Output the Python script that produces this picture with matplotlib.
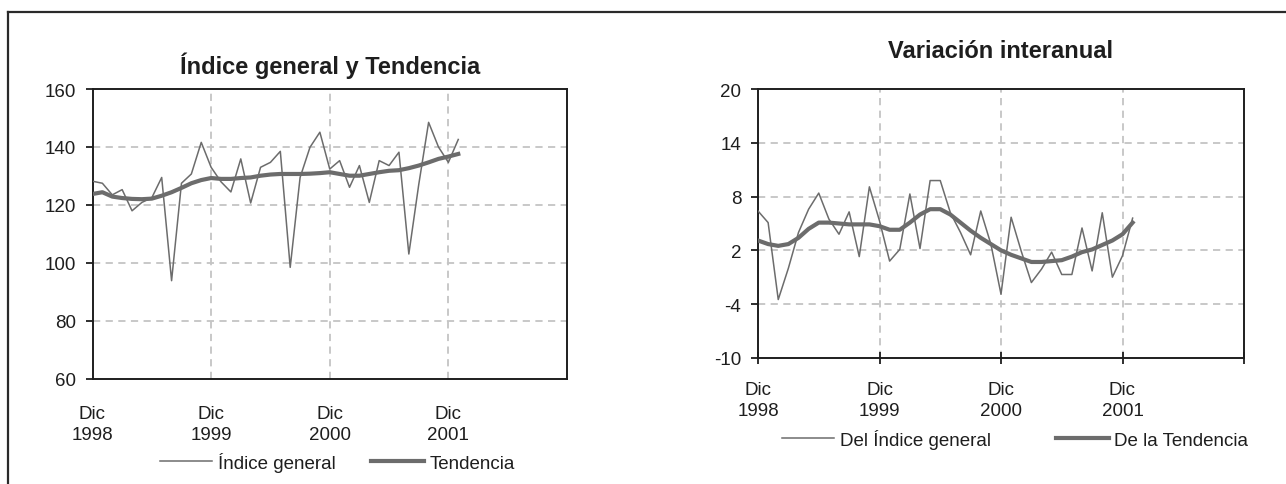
import matplotlib
matplotlib.use('Agg')
from matplotlib import pyplot as plt
from matplotlib.lines import Line2D

plt.rcParams['font.family'] = ['Liberation Sans', 'DejaVu Sans']
plt.rcParams['axes.unicode_minus'] = False

# meses desde Dic 1998 hasta Ene 2002
meses = list(range(38))
ticks_x = [0, 12, 24, 36]
etiquetas_x = ['Dic\n1998', 'Dic\n1999', 'Dic\n2000', 'Dic\n2001']

indice_general = [128.2, 127.5, 123.5, 125.3, 118.0, 120.9, 122.5, 129.5, 93.9, 127.5,
                  130.7, 141.6, 133.0, 128.0, 124.5, 135.9, 120.7, 133.0, 134.7, 138.5,
                  98.5, 129.5, 139.9, 145.1, 132.4, 135.3, 126.1, 133.6, 120.9, 135.3,
                  133.6, 138.2, 103.1, 127.0, 148.5, 140.0, 134.7, 142.6]
tendencia = [123.8, 124.4, 122.9, 122.4, 122.1, 122.0, 122.2, 123.2, 124.4, 125.9,
             127.5, 128.6, 129.3, 129.0, 129.0, 129.3, 129.5, 130.1, 130.5, 130.7,
             130.7, 130.7, 130.8, 131.0, 131.3, 130.7, 130.1, 130.1, 130.7, 131.3,
             131.8, 132.0, 132.7, 133.6, 134.7, 135.9, 136.7, 137.6]

var_indice = [6.4, 5.1, -3.5, 0.0, 4.0, 6.6, 8.4, 5.5, 3.8, 6.3,
              1.3, 9.1, 5.3, 0.8, 2.1, 8.3, 2.2, 9.8, 9.8, 6.2,
              4.0, 1.5, 6.4, 2.7, -2.9, 5.7, 1.9, -1.6, -0.1, 1.8,
              -0.7, -0.7, 4.5, -0.3, 6.2, -1.0, 1.4, 5.6]
var_tendencia = [3.1, 2.7, 2.5, 2.7, 3.4, 4.4, 5.1, 5.1, 5.0, 4.9,
                 4.9, 4.9, 4.7, 4.3, 4.3, 5.1, 6.0, 6.6, 6.6, 6.0,
                 5.1, 4.2, 3.4, 2.7, 2.0, 1.5, 1.1, 0.7, 0.7, 0.8,
                 0.9, 1.3, 1.8, 2.1, 2.6, 3.1, 3.8, 5.1]

ticks_izq = [60, 80, 100, 120, 140, 160]
ticks_der = [-10, -4, 2, 8, 14, 20]

gris = '#6c6c6c'
tinta = '#1e1e1e'
fuente_ticks = ['Liberation Sans Narrow', 'Liberation Sans', 'DejaVu Sans']

fig = plt.figure(figsize=(12.86, 4.85), dpi=100)
W, H = 1286, 485


def caja(x0, x1, y_top, y_bot):
    return [x0 / W, 1 - y_bot / H, (x1 - x0) / W, (y_bot - y_top) / H]


def preparar(ax, yticks, ylim):
    ax.set_xlim(0, 48)
    ax.set_ylim(*ylim)
    ax.set_yticks(yticks)
    for s in ax.spines.values():
        s.set_color(tinta)
        s.set_linewidth(1.4)
    ax.tick_params(axis='y', direction='out', length=5, width=1.3, color=tinta,
                   pad=7, labelsize=13.5, labelcolor=tinta)
    for lab in ax.get_yticklabels():
        lab.set_family(fuente_ticks)
    # rejilla discontinua
    for y in yticks[1:-1]:
        ax.axhline(y, color='#c4c4c4', lw=1.3, ls=(0, (4, 3)), zorder=0)
    for x in ticks_x[1:]:
        ax.axvline(x, color='#c4c4c4', lw=1.3, ls=(0, (4, 3)), zorder=0)


# Índice general y Tendencia
ax1 = fig.add_axes(caja(92.5, 567, 90, 380))
preparar(ax1, ticks_izq, (60, 160))
ax1.set_xticks(ticks_x)
ax1.set_xticklabels(etiquetas_x, family=fuente_ticks, fontsize=13.5, color=tinta,
                    linespacing=1.3)
ax1.tick_params(axis='x', length=0, pad=19)
l1, = ax1.plot(meses, indice_general, color=gris, lw=1.1, zorder=3)
l2, = ax1.plot(meses, tendencia, color=gris, lw=3.0, zorder=4)
fig.text(330 / W, 1 - 66 / H, 'Índice general y Tendencia', ha='center', va='center',
         fontsize=17, fontweight='bold', color=tinta)
fig.legend([l1, l2], ['Índice general', 'Tendencia'], loc='center',
           bbox_to_anchor=(337 / W, 1 - 463 / H), ncol=2, frameon=False,
           fontsize=13.5, handlelength=2.8, handletextpad=0.3, columnspacing=1.9,
           labelcolor=tinta)

# Variación interanual
ax2 = fig.add_axes(caja(758, 1244, 90.3, 358.7))
preparar(ax2, ticks_der, (-10, 20))
ax2.set_xticks(ticks_x + [48])
ax2.set_xticklabels(etiquetas_x + [''], family=fuente_ticks, fontsize=13.5, color=tinta,
                    linespacing=1.3)
ax2.tick_params(axis='x', direction='inout', length=9, width=1.3, color=tinta, pad=12)
l3, = ax2.plot(meses, var_indice, color=gris, lw=1.1, zorder=3)
l4, = ax2.plot(meses, var_tendencia, color=gris, lw=3.0, zorder=4)
fig.text(1000 / W, 1 - 52 / H, 'Variación interanual', ha='center', va='center',
         fontsize=17, fontweight='bold', color=tinta)
fig.legend([l3, l4], ['Del Índice general', 'De la Tendencia'], loc='center',
           bbox_to_anchor=(1015 / W, 1 - 440 / H), ncol=2, frameon=False,
           fontsize=13.5, handlelength=2.8, handletextpad=0.3, columnspacing=3.5,
           labelcolor=tinta)

# marco exterior
fig.add_artist(Line2D([8 / W, 1], [1 - 13 / H, 1 - 13 / H], color='#2a2a2a', lw=1.6))
fig.add_artist(Line2D([8 / W, 8 / W], [0, 1 - 13 / H], color='#2a2a2a', lw=1.6))

fig.savefig('out.png', dpi=100, facecolor='white')
